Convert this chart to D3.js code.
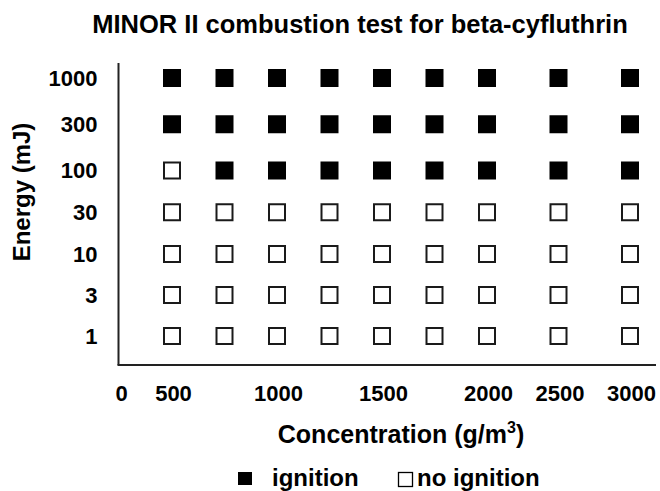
<!DOCTYPE html>
<html>
<head>
<meta charset="utf-8">
<script src="https://cdn.jsdelivr.net/npm/d3@7"></script>
<style>
  body { margin: 0; background: #fff; }
  text { font-family: "Liberation Sans", Arial, sans-serif; font-weight: bold; fill: #000; }
</style>
</head>
<body>
<div id="chart"></div>
<script>
// concentrations tested (g/m3) and spark energies (mJ)
const concentrations = [500, 750, 1000, 1250, 1500, 1750, 2000, 2500, 3000];
const energies = [1, 3, 10, 30, 100, 300, 1000];
const xTickValues = [0, 500, 1000, 1500, 2000, 2500, 3000];

// 1 = ignition, 0 = no ignition ; one row per energy, same order as energies
const results = [
  [0, 0, 0, 0, 0, 0, 0, 0, 0], // 1 mJ
  [0, 0, 0, 0, 0, 0, 0, 0, 0], // 3 mJ
  [0, 0, 0, 0, 0, 0, 0, 0, 0], // 10 mJ
  [0, 0, 0, 0, 0, 0, 0, 0, 0], // 30 mJ
  [0, 1, 1, 1, 1, 1, 1, 1, 1], // 100 mJ
  [1, 1, 1, 1, 1, 1, 1, 1, 1], // 300 mJ
  [1, 1, 1, 1, 1, 1, 1, 1, 1]  // 1000 mJ
];

const w = 660, h = 491;
const axisX = 118.5, axisY = 365;
const size = 18;

const svg = d3.select("#chart")
              .append("svg")
              .attr("width", w)
              .attr("height", h);

// the original axis is not evenly spaced: 0-500 is squeezed, 2000-3000 too
const xScale = d3.scaleLinear()
                 .domain([0, 500, 2000, 3000])
                 .range([120, 172, 487, 630]);

const yScale = d3.scaleLinear()
                 .domain([0, 2, 4, 6])
                 .range([336, 254, 170.5, 78]);

let cells = [];
results.forEach((row, i) => {
  row.forEach((v, j) => {
    cells.push({ e: i, c: concentrations[j], ign: v });
  });
});

svg.selectAll("rect.cell")
   .data(cells)
   .enter()
   .append("rect")
   .attr("class", "cell")
   .attr("x", d => xScale(d.c) - size / 2 + (d.ign ? 0 : 1))
   .attr("y", d => yScale(d.e) - size / 2 + (d.ign ? 0 : 1))
   .attr("width", d => d.ign ? size : size - 2)
   .attr("height", d => d.ign ? size : size - 2)
   .style("fill", d => d.ign ? "#000" : "#fff")
   .style("stroke", d => d.ign ? "none" : "#1a1a1a")
   .style("stroke-width", 2);

// axes lines
svg.append("line")
   .attr("x1", axisX).attr("x2", axisX)
   .attr("y1", 63).attr("y2", axisY)
   .style("stroke", "#222").style("stroke-width", 2);

svg.append("line")
   .attr("x1", axisX - 1).attr("x2", 656)
   .attr("y1", axisY).attr("y2", axisY)
   .style("stroke", "#222").style("stroke-width", 2);

// tick labels
const xAxis = d3.axisBottom(xScale)
                .tickValues(xTickValues)
                .tickSize(0)
                .tickPadding(0)
                .tickFormat(d => d);

const gx = svg.append("g")
              .attr("transform", "translate(0, 385)")
              .call(xAxis);
gx.select(".domain").remove();
gx.selectAll("text")
  .attr("dy", "0.71em")
  .attr("transform", "translate(1, 0)")
  .style("font-size", "22px");

const yAxis = d3.axisLeft(yScale)
                .tickValues(d3.range(energies.length))
                .tickSize(0)
                .tickPadding(21)
                .tickFormat(i => energies[i]);

const gy = svg.append("g")
              .attr("transform", `translate(${axisX}, 0)`)
              .call(yAxis);
gy.select(".domain").remove();
gy.selectAll("text")
  .style("font-size", "22px");

// title and axis titles
svg.append("text")
   .attr("x", 360)
   .attr("y", 33)
   .attr("text-anchor", "middle")
   .style("font-size", "25.5px")
   .text("MINOR II combustion test for beta-cyfluthrin");

const xt = svg.append("text")
              .attr("x", 401)
              .attr("y", 443)
              .attr("text-anchor", "middle")
              .style("font-size", "25px");
xt.append("tspan").text("Concentration (g/m");
xt.append("tspan").attr("dy", -10).style("font-size", "16px").text("3");
xt.append("tspan").attr("dy", 10).text(")");

svg.append("text")
   .attr("transform", "translate(30, 192) rotate(-90)")
   .attr("text-anchor", "middle")
   .style("font-size", "24px")
   .text("Energy (mJ)");

// legend
svg.append("rect")
   .attr("x", 238).attr("y", 472)
   .attr("width", 14).attr("height", 13)
   .style("fill", "#000");
svg.append("text")
   .attr("x", 272).attr("y", 486)
   .style("font-size", "24px")
   .text("ignition");

svg.append("rect")
   .attr("x", 398.5).attr("y", 472.5)
   .attr("width", 14).attr("height", 14)
   .style("fill", "#fff")
   .style("stroke", "#000")
   .style("stroke-width", 1.3);
svg.append("text")
   .attr("x", 417).attr("y", 486)
   .style("font-size", "24px")
   .text("no ignition");
</script>
</body>
</html>
